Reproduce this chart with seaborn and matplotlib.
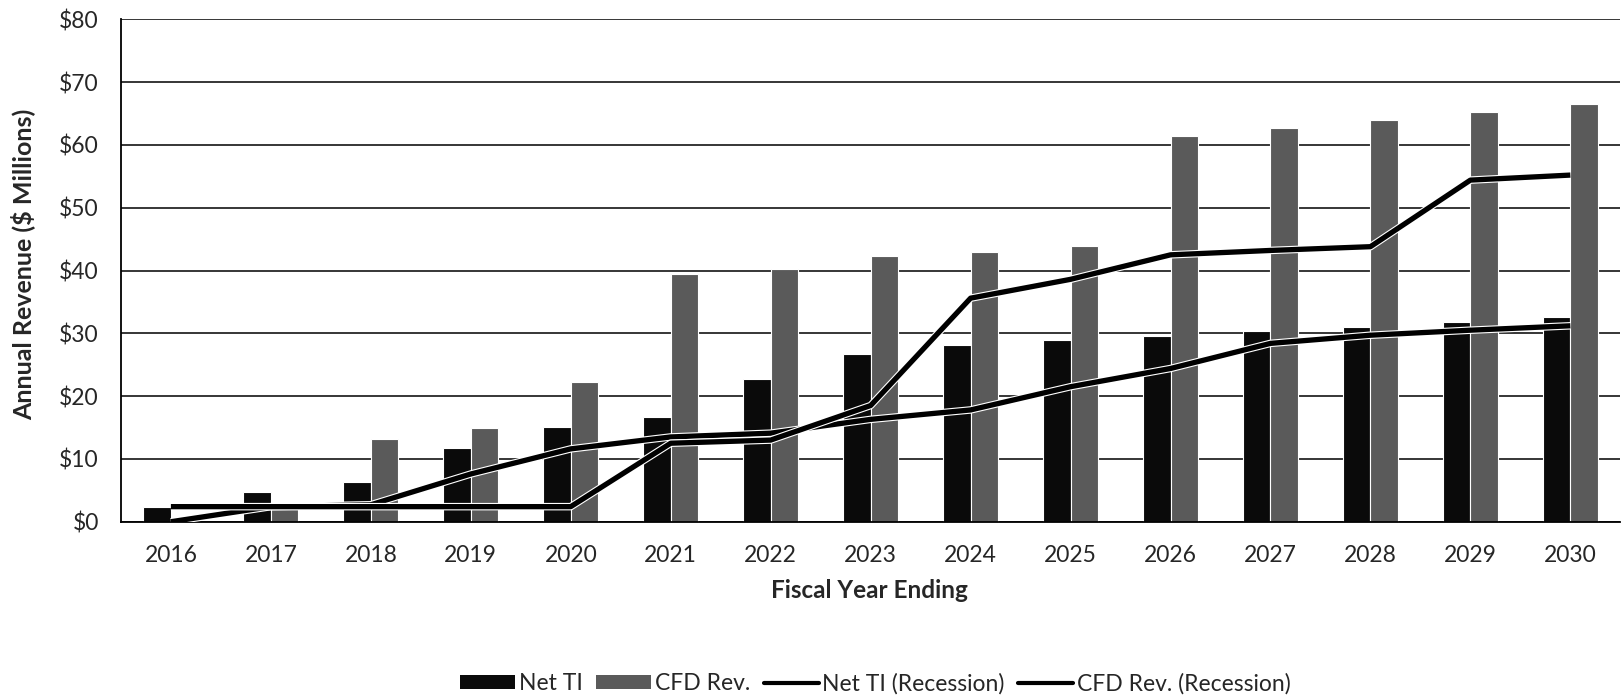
import numpy as np
import pandas as pd
import seaborn as sns
import matplotlib.pyplot as plt
import matplotlib.patheffects as pe
from matplotlib.patches import Patch
from matplotlib.lines import Line2D

years = [str(y) for y in range(2016, 2031)]
net_ti = [2.3, 4.8, 6.4, 11.7, 15.1, 16.7, 22.7, 26.7, 28.2, 28.9, 29.6, 30.4, 31.0, 31.8, 32.6]
cfd_rev = [0.0, 2.0, 13.1, 14.9, 22.3, 39.4, 40.2, 42.3, 43.0, 43.9, 61.4, 62.7, 64.0, 65.2, 66.5]
net_ti_rec = [0.0, 2.4, 2.7, 7.6, 11.6, 13.5, 14.1, 16.3, 17.8, 21.5, 24.4, 28.4, 29.7, 30.5, 31.2]
cfd_rec = [2.4, 2.4, 2.4, 2.4, 2.4, 12.5, 13.0, 18.5, 35.6, 38.6, 42.5, 43.2, 43.8, 54.4, 55.2]

sns.set_style('white')
plt.rcParams['font.family'] = ['Lato', 'DejaVu Sans']

df = pd.DataFrame({'Year': years * 2,
                   'Value': net_ti + cfd_rev,
                   'Series': ['Net TI'] * len(years) + ['CFD Rev.'] * len(years)})

bar_colors = {'Net TI': '#0a0a0a', 'CFD Rev.': '#5a5a5a'}

fig = plt.figure(figsize=(16.21, 6.96), dpi=100)
ax = fig.add_axes([0.0746, 0.2504, 0.925, 0.7218])

ax.set_axisbelow(True)
ax.yaxis.grid(True, color='black', linewidth=1.1)

sns.barplot(data=df, x='Year', y='Value', hue='Series', palette=bar_colors,
            width=0.55, edgecolor='white', linewidth=0.8, legend=False, ax=ax, zorder=2)

pos = np.arange(len(years))
stroke = [pe.Stroke(linewidth=5.4, foreground='white'), pe.Normal()]
for vals in [net_ti_rec, cfd_rec]:
    sns.lineplot(x=pos, y=vals, color='black', linewidth=3.8, ax=ax,
                 path_effects=stroke, zorder=3, solid_capstyle='butt')

ax.set_xlim(-0.5, len(years) - 0.5)
ax.set_ylim(0, 80)
ax.set_yticks(range(0, 81, 10))
ax.set_yticklabels([f'${v}' for v in range(0, 81, 10)], fontsize=16.5)
ax.set_xticks(pos)
ax.set_xticklabels(years, fontsize=16.5)
ax.set_xticks(np.arange(-0.5, len(years), 1), minor=True)
ax.tick_params(axis='x', which='major', length=0, pad=17)
ax.tick_params(axis='x', which='minor', length=6, width=1.2, color='black', direction='out')
ax.tick_params(axis='y', length=7, width=1.0, color='black', direction='out', pad=9)

for s in ['top', 'right']:
    ax.spines[s].set_visible(False)
for s in ['left', 'bottom']:
    ax.spines[s].set_color('black')
    ax.spines[s].set_linewidth(1.3)

ax.set_xlabel('Fiscal Year Ending', fontsize=17.5, fontweight='bold')
ax.set_ylabel('Annual Revenue ($ Millions)', fontsize=18, fontweight='bold')
ax.xaxis.set_label_coords(0.499, -0.115)
ax.yaxis.set_label_coords(-0.0575, 0.513)

handles = [Patch(facecolor=bar_colors['Net TI'], edgecolor='none'),
           Patch(facecolor=bar_colors['CFD Rev.'], edgecolor='none'),
           Line2D([0], [0], color='black', linewidth=3),
           Line2D([0], [0], color='black', linewidth=3)]
labels = ['Net TI', 'CFD Rev.', 'Net TI (Recession)', 'CFD Rev. (Recession)']
fig.legend(handles, labels, loc='center', bbox_to_anchor=(0.54, 0.018), ncol=4,
           frameon=False, fontsize=16.5, handlelength=2.4, handleheight=0.55,
           handletextpad=0.15, columnspacing=0.6, borderaxespad=0, borderpad=0)

fig.savefig('out.png', dpi=100)
